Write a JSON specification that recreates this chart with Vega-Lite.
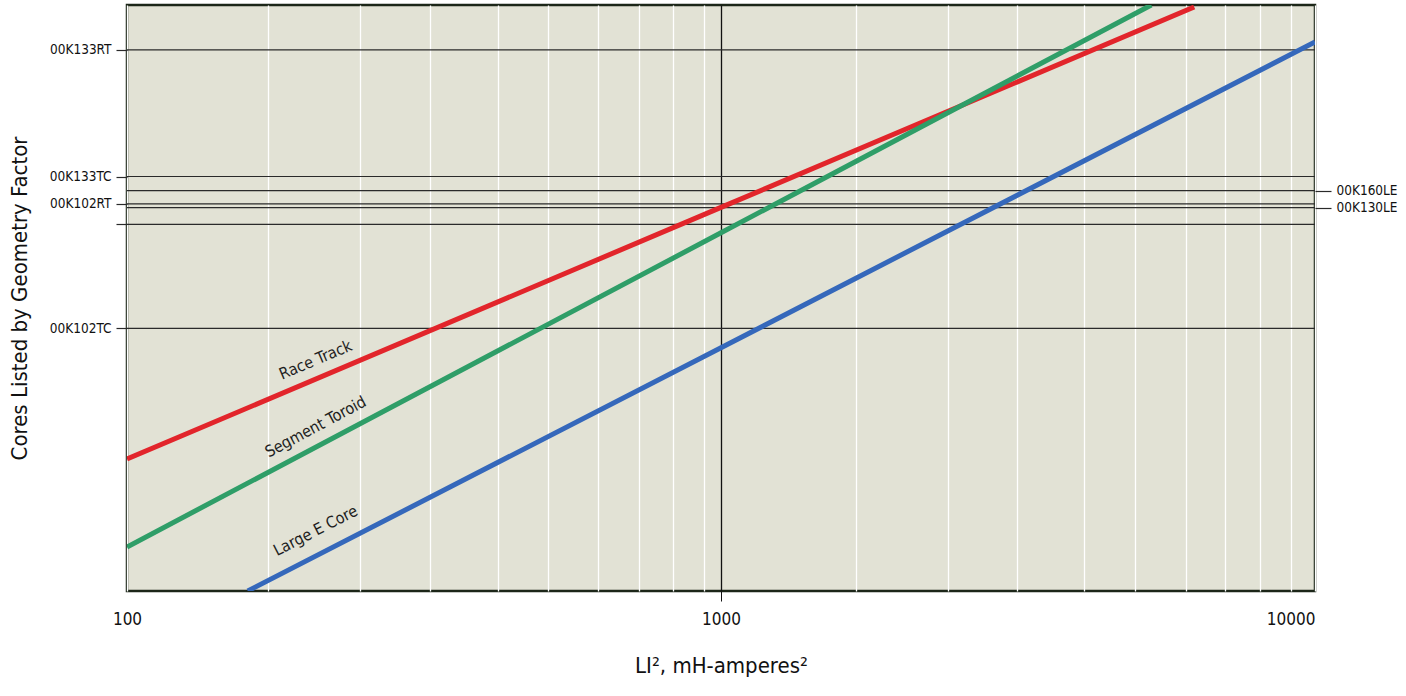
{
  "$schema": "https://vega.github.io/schema/vega-lite/v6.json",
  "width": 1188,
  "height": 586,
  "autosize": "none",
  "padding": {"left": 127, "top": 5, "right": 91, "bottom": 105},
  "background": "white",
  "config": {
    "font": "DejaVu Sans Condensed, Liberation Sans, sans-serif",
    "view": {"fill": "#e2e2d5", "stroke": "#1c2618", "strokeWidth": 2.5},
    "axis": {"labelColor": "#111", "titleColor": "#111", "titleFontWeight": "normal", "domain": false}
  },
  "datasets": {
    "cores": [
      {"core": "00K133RT", "kg": 58.9},
      {"core": "00K133TC", "kg": 13.24},
      {"core": "00K160LE", "kg": 11.2},
      {"core": "00K102RT", "kg": 9.58},
      {"core": "00K130LE", "kg": 9.17},
      {"core": "", "kg": 7.54},
      {"core": "00K102TC", "kg": 2.21}
    ],
    "curves": [
      {"family": "Race Track", "li2": 100, "kg": 0.474},
      {"family": "Race Track", "li2": 1000, "kg": 9.2},
      {"family": "Race Track", "li2": 6261, "kg": 97.7},
      {"family": "Segment Toroid", "li2": 100, "kg": 0.168},
      {"family": "Segment Toroid", "li2": 1000, "kg": 6.82},
      {"family": "Segment Toroid", "li2": 5302, "kg": 100},
      {"family": "Large E Core", "li2": 159.7, "kg": 0.1},
      {"family": "Large E Core", "li2": 1000, "kg": 1.76},
      {"family": "Large E Core", "li2": 10000, "kg": 64.7}
    ],
    "tags": [
      {"family": "Race Track", "li2": 207.8, "kg": 1.52, "tilt": -23},
      {"family": "Segment Toroid", "li2": 207.8, "kg": 0.691, "tilt": -28},
      {"family": "Large E Core", "li2": 207.8, "kg": 0.203, "tilt": -27}
    ]
  },
  "resolve": {"axis": {"y": "independent"}},
  "layer": [
    {
      "data": {"name": "cores"},
      "mark": {"type": "rule", "color": "#2a2a2a", "strokeWidth": 1.2},
      "encoding": {
        "y": {
          "field": "kg",
          "type": "quantitative",
          "scale": {"type": "log", "domain": [0.1, 100]},
          "axis": {
            "orient": "left",
            "values": [58.9, 13.24, 9.58, 7.54, 2.21],
            "labelExpr": "datum.value == 58.9 ? '00K133RT' : datum.value == 13.24 ? '00K133TC' : datum.value == 9.58 ? '00K102RT' : datum.value == 2.21 ? '00K102TC' : ''",
            "grid": false,
            "tickSize": 11,
            "tickColor": "#2a2a2a",
            "tickWidth": 1.2,
            "labelPadding": 5,
            "labelFontSize": 13.5,
            "title": "Cores Listed by Geometry Factor",
            "titleFontSize": 22,
            "titlePadding": 18
          }
        }
      }
    },
    {
      "data": {"name": "curves"},
      "mark": {"type": "line", "strokeWidth": 5, "clip": true},
      "encoding": {
        "x": {
          "field": "li2",
          "type": "quantitative",
          "scale": {"type": "log", "domain": [100, 10000]},
          "axis": {
            "values": [100, 173, 247, 324, 421, 512, 621, 728, 830, 935, 1000, 1685, 2408, 3150, 4087, 4985, 6066, 7066, 8091, 9106, 10000],
            "format": "d",
            "labelExpr": "datum.value == 100 || datum.value == 1000 || datum.value == 10000 ? datum.label : ''",
            "labelAlign": {"expr": "datum.value == 10000 ? 'right' : 'center'"},
            "grid": true,
            "gridColor": {"expr": "datum.value == 1000 ? '#111' : 'white'"},
            "gridOpacity": 1,
            "gridWidth": 1.3,
            "tickSize": 10,
            "tickColor": {"expr": "datum.value == 1000 ? '#111' : 'transparent'"},
            "labelPadding": 10,
            "labelFontSize": 17,
            "labelOverlap": false,
            "title": "LI², mH-amperes²",
            "titleFontSize": 22,
            "titlePadding": 28
          }
        },
        "y": {
          "field": "kg",
          "type": "quantitative",
          "scale": {"type": "log", "domain": [0.1, 100]},
          "axis": {
            "orient": "right",
            "values": [11.2, 9.17],
            "labelExpr": "datum.value == 11.2 ? '00K160LE' : '00K130LE'",
            "grid": false,
            "tickSize": 16,
            "tickColor": "#2a2a2a",
            "tickWidth": 1.2,
            "labelPadding": 5,
            "labelFontSize": 13.5,
            "title": null
          }
        },
        "color": {
          "field": "family",
          "type": "nominal",
          "scale": {"domain": ["Race Track", "Segment Toroid", "Large E Core"], "range": ["#e2252b", "#2f9e68", "#3568bb"]},
          "legend": null
        }
      }
    },
    {
      "data": {"name": "tags"},
      "mark": {"type": "text", "fontSize": 16, "color": "#1e1e1e", "align": "center", "baseline": "middle"},
      "encoding": {
        "x": {"field": "li2", "type": "quantitative"},
        "y": {"field": "kg", "type": "quantitative", "scale": {"type": "log", "domain": [0.1, 100]}, "axis": null},
        "text": {"field": "family"},
        "angle": {"field": "tilt", "type": "quantitative", "scale": null}
      }
    }
  ]
}
